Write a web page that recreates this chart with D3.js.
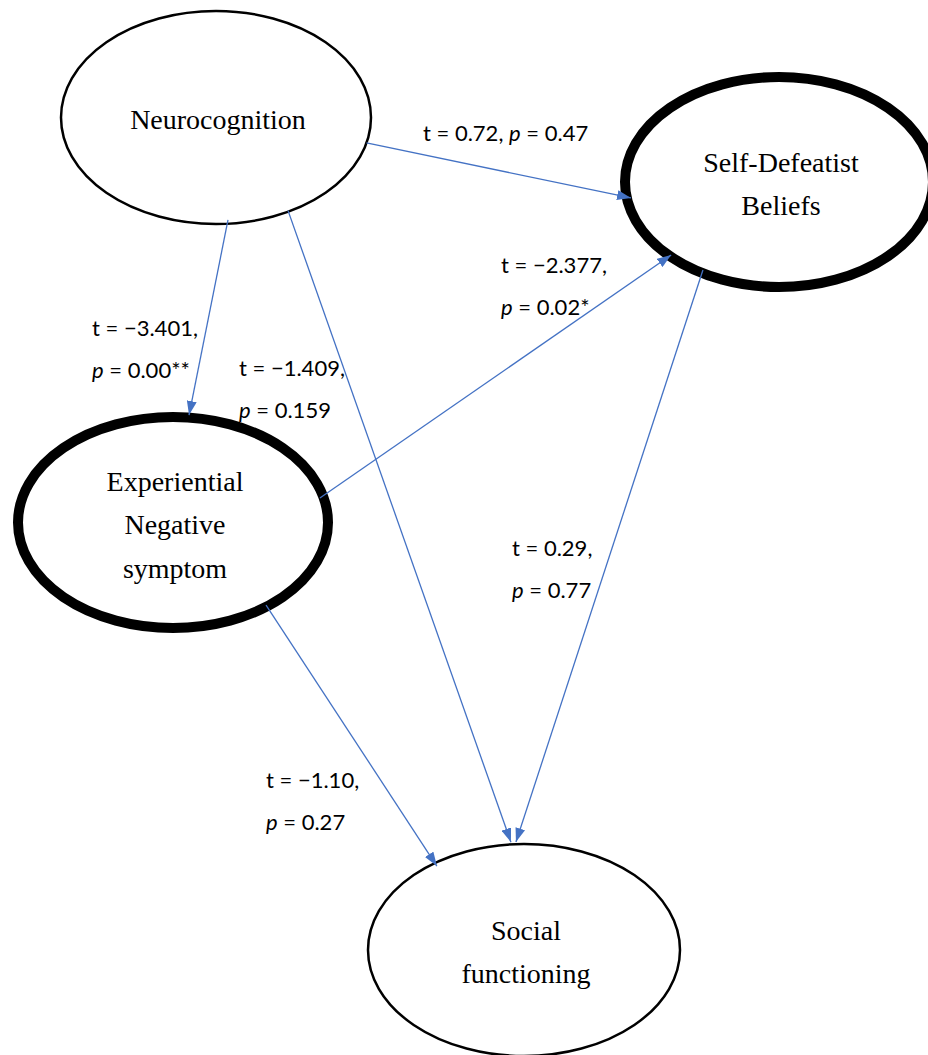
<!DOCTYPE html>
<html>
<head>
<meta charset="utf-8">
<script src="https://cdn.jsdelivr.net/npm/d3@7"></script>
<style>
  html, body { margin: 0; padding: 0; background: #ffffff; }
  svg { display: block; }
</style>
</head>
<body>
<div id="chart"></div>
<script>
// Constructs of the path model (label lines as drawn inside each ellipse)
const constructs = ["Neurocognition", "Self-Defeatist Beliefs", "Experiential Negative symptom", "Social functioning"];
const constructLines = [["Neurocognition"], ["Self-Defeatist", "Beliefs"], ["Experiential", "Negative", "symptom"], ["Social", "functioning"]];
const mediators = [false, true, true, false];

// Paths between constructs with their test statistics
const pathFrom = [0, 0, 0, 2, 1, 2];
const pathTo   = [1, 2, 3, 1, 3, 3];
const tValues  = ["0.72", "\u22123.401", "\u22121.409", "\u22122.377", "0.29", "\u22121.10"];
const pValues  = ["0.47", "0.00**", "0.159", "0.02*", "0.77", "0.27"];

// ---- layout ----
const W = 928, H = 1055;
const nodeCx = [216, 779, 173, 524];
const nodeCy = [117.5, 182, 522.5, 950];
const nodeRx = [155, 154, 155, 156];
const nodeRy = [106.5, 105, 105.5, 106];

// where each path leaves / meets an ellipse: angle (deg) and radial factor
const srcAnchor = [[13.8, 1.0], [85.4, 0.965], [62, 0.99], [-13.8, 0.976], [120.5, 0.973], [52.5, 0.986]];
const tgtAnchor = [[171, 0.973], [-84.2, 1.024], [-94.7, 1.02], [135.2, 0.987], [-92.9, 1.02], [-125.2, 0.969]];

// label placement: left x and first baseline; single-line flag
const labelPos = [[423, 141, true], [92, 336, false], [239, 376, false], [501, 273, false], [512, 556, false], [266, 788, false]];
const lineGap = 41.5;

const svg = d3.select("#chart").append("svg")
  .attr("width", W).attr("height", H)
  .attr("viewBox", `0 0 ${W} ${H}`);

svg.append("rect").attr("width", W).attr("height", H).attr("fill", "#ffffff");

const blue = "#4472C4";

svg.append("defs").append("marker")
  .attr("id", "head")
  .attr("viewBox", "0 0 14 10")
  .attr("refX", 14).attr("refY", 5)
  .attr("markerUnits", "userSpaceOnUse")
  .attr("markerWidth", 14).attr("markerHeight", 10)
  .attr("orient", "auto")
  .append("path")
  .attr("d", "M0,0 L14,5 L0,10 Z")
  .attr("fill", blue);

// ellipses
const nodes = constructs.map((name, i) => ({
  name, i, lines: constructLines[i], cx: nodeCx[i], cy: nodeCy[i], rx: nodeRx[i], ry: nodeRy[i], thick: mediators[i]
}));

const nodeG = svg.append("g").selectAll("g").data(nodes).join("g");

nodeG.append("ellipse")
  .attr("cx", d => d.cx).attr("cy", d => d.cy)
  .attr("rx", d => d.rx).attr("ry", d => d.ry)
  .attr("fill", "#ffffff")
  .attr("stroke", "#000000")
  .attr("stroke-width", d => d.thick ? 10 : 2.5);

const nodeLineGap = 43.5;
nodeG.each(function (d) {
  const n = d.lines.length;
  const first = d.cy + 11.5 - (n - 1) * nodeLineGap / 2;
  d3.select(this).selectAll("text").data(d.lines).join("text")
    .attr("x", d.cx + 2)
    .attr("y", (s, k) => first + k * nodeLineGap)
    .attr("text-anchor", "middle")
    .attr("font-family", "'Liberation Serif', 'Times New Roman', serif")
    .attr("font-size", 28)
    .attr("fill", "#000000")
    .text(s => s);
});

// point on an ellipse from angle + radial factor
function onEllipse(k, anchor) {
  const a = anchor[0] * Math.PI / 180;
  return [nodeCx[k] + anchor[1] * nodeRx[k] * Math.cos(a), nodeCy[k] + anchor[1] * nodeRy[k] * Math.sin(a)];
}

const paths = pathFrom.map((s, i) => ({
  s, t: pathTo[i], tv: tValues[i], pv: pValues[i],
  p0: onEllipse(s, srcAnchor[i]), p1: onEllipse(pathTo[i], tgtAnchor[i]),
  lx: labelPos[i][0], ly: labelPos[i][1], single: labelPos[i][2]
}));

const line = d3.line();
svg.append("g").selectAll("path").data(paths).join("path")
  .attr("d", d => line([d.p0, d.p1]))
  .attr("fill", "none")
  .attr("stroke", blue)
  .attr("stroke-width", 1.3)
  .attr("marker-end", "url(#head)");

// statistics labels
const labG = svg.append("g")
  .attr("font-family", "Lato, 'Open Sans', sans-serif")
  .attr("font-size", 22)
  .attr("fill", "#000000");

paths.forEach(d => {
  if (d.single) {
    const t = labG.append("text").attr("x", d.lx).attr("y", d.ly);
    t.append("tspan").text(`t = ${d.tv}, `);
    t.append("tspan").attr("font-style", "italic").text("p");
    t.append("tspan").text(` = ${d.pv}`);
  } else {
    labG.append("text").attr("x", d.lx).attr("y", d.ly).text(`t = ${d.tv},`);
    const t2 = labG.append("text").attr("x", d.lx).attr("y", d.ly + lineGap);
    t2.append("tspan").attr("font-style", "italic").text("p");
    t2.append("tspan").text(` = ${d.pv}`);
  }
});
</script>
</body>
</html>
